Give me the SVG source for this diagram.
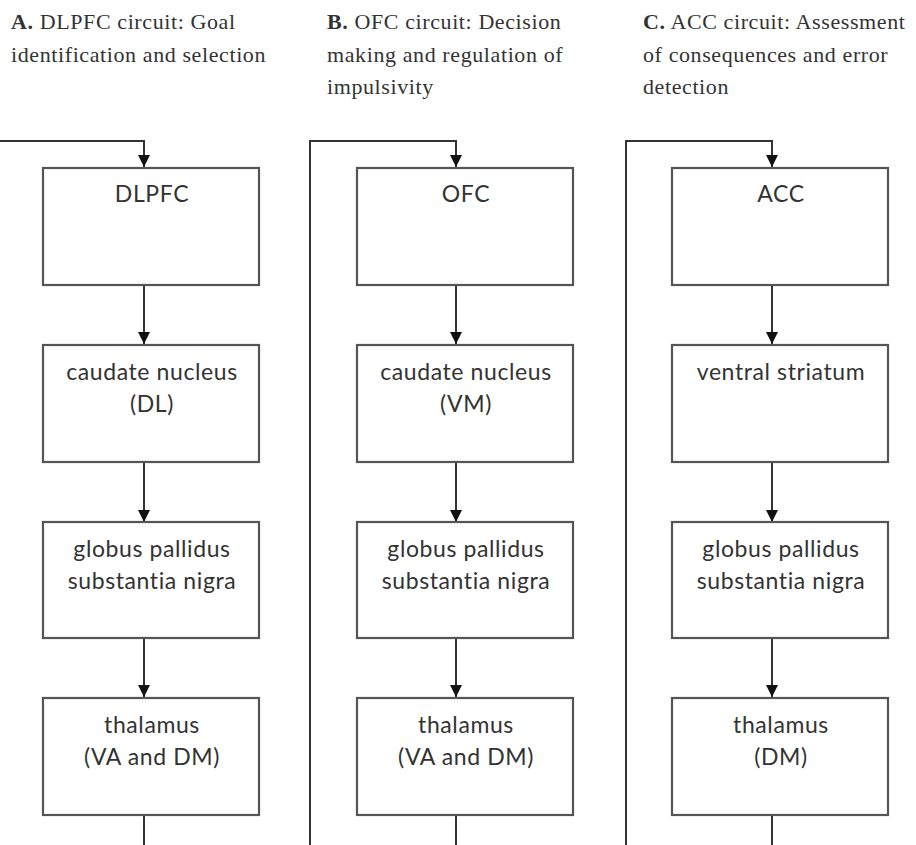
<svg xmlns="http://www.w3.org/2000/svg" width="916" height="845" viewBox="0 0 916 845">
<defs>
<marker id="ah" viewBox="0 0 12 12" refX="12" refY="6" markerWidth="12" markerHeight="12" markerUnits="userSpaceOnUse" orient="auto">
<path d="M0,0 L12,6 L0,12 Z" fill="#111"/>
</marker>
</defs>
<style>
.box{fill:#fff;stroke:#555;stroke-width:2.2}
.lbl{font-family:Lato,"Open Sans",sans-serif;font-size:23px;letter-spacing:0.6px;fill:#333;text-anchor:middle}
.ttl{font-family:"Liberation Serif","Times New Roman",serif;font-size:22px;letter-spacing:0.6px;fill:#333}
.ttl tspan.b{font-weight:bold}
.con{fill:none;stroke:#333;stroke-width:2}
</style>
<rect width="916" height="845" fill="#fff"/>
<g id="titles">
<text class="ttl" x="11" y="29"><tspan class="b">A.</tspan> DLPFC circuit: Goal</text>
<text class="ttl" x="11" y="62">identification and selection</text>
<text class="ttl" x="327" y="29"><tspan class="b">B.</tspan> OFC circuit: Decision</text>
<text class="ttl" x="327" y="62">making and regulation of</text>
<text class="ttl" x="327" y="94">impulsivity</text>
<text class="ttl" x="643" y="29"><tspan class="b">C.</tspan> ACC circuit: Assessment</text>
<text class="ttl" x="643" y="62">of consequences and error</text>
<text class="ttl" x="643" y="94">detection</text>
</g>
<g id="connectors">
<path class="con" d="M0,141 H144 V167" marker-end="url(#ah)"/>
<path class="con" d="M144,285 V344" marker-end="url(#ah)"/>
<path class="con" d="M144,462 V522" marker-end="url(#ah)"/>
<path class="con" d="M144,638 V697" marker-end="url(#ah)"/>
<path class="con" d="M144,815 V845"/>
<path class="con" d="M310,845 V141 H456 V167" marker-end="url(#ah)"/>
<path class="con" d="M456,285 V344" marker-end="url(#ah)"/>
<path class="con" d="M456,462 V522" marker-end="url(#ah)"/>
<path class="con" d="M456,638 V697" marker-end="url(#ah)"/>
<path class="con" d="M456,815 V845"/>
<path class="con" d="M626,845 V141 H772 V167" marker-end="url(#ah)"/>
<path class="con" d="M772,285 V344" marker-end="url(#ah)"/>
<path class="con" d="M772,462 V522" marker-end="url(#ah)"/>
<path class="con" d="M772,638 V697" marker-end="url(#ah)"/>
<path class="con" d="M772,815 V845"/>
</g>
<g id="a-dlpfc"><rect class="box" x="43" y="168" width="216" height="117"/><text class="lbl" x="152" y="202">DLPFC</text></g>
<g id="a-caudate"><rect class="box" x="43" y="345" width="216" height="117"/><text class="lbl" x="152" y="380">caudate nucleus</text><text class="lbl" x="152" y="412">(DL)</text></g>
<g id="a-globus"><rect class="box" x="43" y="522" width="216" height="116"/><text class="lbl" x="152" y="557">globus pallidus</text><text class="lbl" x="152" y="589">substantia nigra</text></g>
<g id="a-thalamus"><rect class="box" x="43" y="698" width="216" height="117"/><text class="lbl" x="152" y="733">thalamus</text><text class="lbl" x="152" y="765">(VA and DM)</text></g>
<g id="b-ofc"><rect class="box" x="357" y="168" width="216" height="117"/><text class="lbl" x="466" y="202">OFC</text></g>
<g id="b-caudate"><rect class="box" x="357" y="345" width="216" height="117"/><text class="lbl" x="466" y="380">caudate nucleus</text><text class="lbl" x="466" y="412">(VM)</text></g>
<g id="b-globus"><rect class="box" x="357" y="522" width="216" height="116"/><text class="lbl" x="466" y="557">globus pallidus</text><text class="lbl" x="466" y="589">substantia nigra</text></g>
<g id="b-thalamus"><rect class="box" x="357" y="698" width="216" height="117"/><text class="lbl" x="466" y="733">thalamus</text><text class="lbl" x="466" y="765">(VA and DM)</text></g>
<g id="c-acc"><rect class="box" x="672" y="168" width="216" height="117"/><text class="lbl" x="781" y="202">ACC</text></g>
<g id="c-striatum"><rect class="box" x="672" y="345" width="216" height="117"/><text class="lbl" x="781" y="380">ventral striatum</text></g>
<g id="c-globus"><rect class="box" x="672" y="522" width="216" height="116"/><text class="lbl" x="781" y="557">globus pallidus</text><text class="lbl" x="781" y="589">substantia nigra</text></g>
<g id="c-thalamus"><rect class="box" x="672" y="698" width="216" height="117"/><text class="lbl" x="781" y="733">thalamus</text><text class="lbl" x="781" y="765">(DM)</text></g>
</svg>
